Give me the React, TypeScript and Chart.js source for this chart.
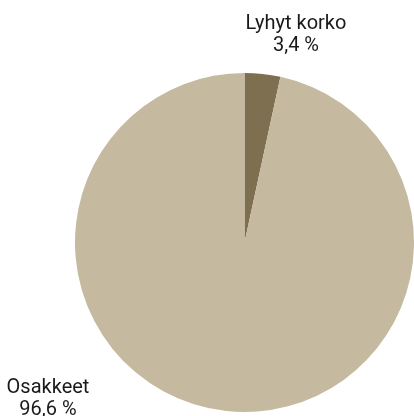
import React, { useEffect, useRef } from "react";
import { Chart, registerables } from "chart.js";

Chart.register(...registerables);

const categories = ["Lyhyt korko", "Osakkeet"];
const values = [3.4, 96.6];
const valueLabels = ["3,4 %", "96,6 %"];
const colors = ["#7f6f51", "#c5b99f"];

const FONT = '20px Roboto, "Open Sans", sans-serif';

const labelPlugin = {
  id: "sliceLabels",
  afterDraw(chart: any) {
    const meta = chart.getDatasetMeta(0);
    const arc = meta.data[0];
    if (!arc) return;
    const cx = arc.x;
    const cy = arc.y;
    const r = arc.outerRadius;
    const ctx = chart.ctx;
    ctx.save();
    ctx.font = FONT;
    ctx.fillStyle = "#1a1a1a";
    ctx.textAlign = "center";
    ctx.textBaseline = "alphabetic";
    // Lyhyt korko label above the top of the pie, slightly right
    const x0 = cx + 51.5;
    const y0 = cy - r - 44;
    ctx.fillText(categories[0], x0, y0);
    ctx.fillText(valueLabels[0], x0, y0 + 22);
    // Osakkeet label at lower left
    const x1 = cx - 196.5;
    const y1 = cy + r * 0.885;
    ctx.fillText(categories[1], x1, y1);
    ctx.fillText(valueLabels[1], x1, y1 + 22);
    ctx.restore();
  },
};

export default function App() {
  const ref = useRef<HTMLCanvasElement | null>(null);
  useEffect(() => {
    document.body.style.margin = "0";
    const chart = new Chart(ref.current as HTMLCanvasElement, {
      type: "pie",
      data: {
        labels: categories,
        datasets: [
          {
            data: values,
            backgroundColor: colors,
            borderWidth: 0,
          },
        ],
      },
      options: {
        animation: false,
        responsive: false,
        maintainAspectRatio: false,
        layout: { padding: { top: 72, bottom: 3, left: 75, right: 0 } },
        plugins: {
          legend: { display: false },
          tooltip: { enabled: false },
        },
      },
      plugins: [labelPlugin],
    });
    return () => chart.destroy();
  }, []);
  return (
    <div style={{ width: 414, height: 416 }}>
      <canvas ref={ref} width={414} height={416} />
    </div>
  );
}
